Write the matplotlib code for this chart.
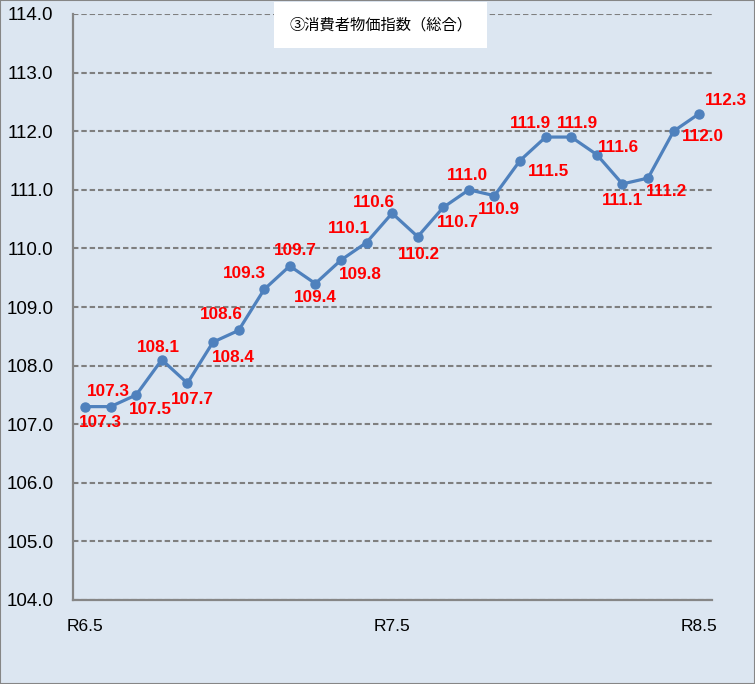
import matplotlib
matplotlib.use("Agg")
import matplotlib.pyplot as plt
import numpy as np

# data
values = [107.3, 107.3, 107.5, 108.1, 107.7, 108.4, 108.6, 109.3, 109.7, 109.4,
          109.8, 110.1, 110.6, 110.2, 110.7, 111.0, 110.9, 111.5, 111.9, 111.9,
          111.6, 111.1, 111.2, 112.0, 112.3]
xtick_pos = [0, 12, 24]
xtick_labels = ["R6.5", "R7.5", "R8.5"]
title = "③消費者物価指数（総合）"

# label offsets in pixels (dx right, dy down)
label_off = [(15, 16), (-2, -15), (14, 15), (-3, -12), (5, 16), (20, 15), (-17, -16),
             (-20, -16), (6, -15), (0, 14), (19, 14), (-18, -14), (-18, -11), (1, 18),
             (15, 15), (-1, -14), (4, 14), (28, 11), (-15, -14), (6, -14), (22, -7),
             (0, 17), (18, 13), (29, 5), (27, -13)]

bg = "#DCE6F1"
W, H = 755, 684
fig = plt.figure(figsize=(W / 100, H / 100), dpi=100, facecolor=bg)
ax = fig.add_axes([73 / W, 1 - 600 / H, (712 - 73) / W, (600 - 14) / H])
ax.set_facecolor(bg)

x = np.arange(len(values))
ax.plot(x, values, color="#4F81BD", lw=2.3, marker="o", ms=6.5, zorder=3)

for xi, v, (dx, dy) in zip(x, values, label_off):
    ax.annotate(f"{v:.1f}", (xi, v), xytext=(dx * 0.72, -dy * 0.72),
                textcoords="offset points", ha="center", va="center",
                color="#FF0000", fontsize=12.3, fontweight="bold",
                family="Liberation Sans", zorder=4)

ax.set_xlim(-0.47, 24.5)
ax.set_ylim(104, 114)
ax.set_yticks(np.arange(104, 114.1, 1.0))
ax.set_yticklabels([f"{t:.1f}" for t in np.arange(104, 114.1, 1.0)],
                   family="Liberation Sans", fontsize=13.5)
ax.set_xticks(xtick_pos)
ax.set_xticklabels(xtick_labels, family="Liberation Sans", fontsize=12.5)
ax.tick_params(axis="y", length=0, pad=14)
ax.tick_params(axis="x", length=0, pad=14)

ax.yaxis.grid(True, color="#7F7F7F", lw=1.5, linestyle=(0, (2.6, 1.4)))
ax.set_axisbelow(True)
for s in ["top", "right"]:
    ax.spines[s].set_visible(False)
for s in ["left", "bottom"]:
    ax.spines[s].set_color("#868686")
    ax.spines[s].set_linewidth(1.6)
ax.spines["bottom"].set_zorder(2.5)

fig.text(289 / W, 1 - 25 / H, title, ha="left", va="center", fontsize=11,
         family=["Noto Sans CJK JP", "DejaVu Sans"],
         bbox=dict(boxstyle="square,pad=0.95", facecolor="white", edgecolor="none"))

# outer frame
fig.patches.append(plt.Rectangle((0, 0), 1, 1, transform=fig.transFigure,
                                 fill=False, edgecolor="#868686", lw=1.5))

fig.savefig("out.png", dpi=100, facecolor=bg)
